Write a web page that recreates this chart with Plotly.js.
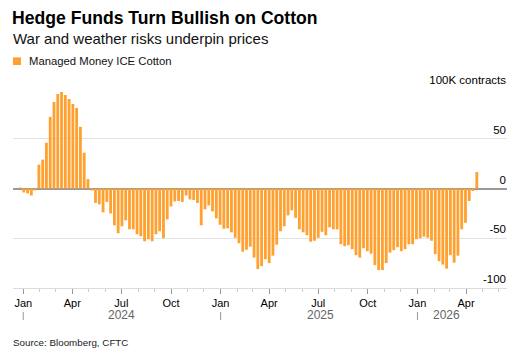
<!DOCTYPE html>
<html>
<head>
<meta charset="utf-8">
<script src="https://cdn.plot.ly/plotly-3.0.1.min.js"></script>
<style>
  html, body { margin: 0; padding: 0; background: #fff; }
  #chart { width: 529px; height: 357px; }
</style>
</head>
<body>
<div id="chart"></div>
<script>
// Weekly CFTC report dates (Tuesdays), first and count
const firstWeek = '2023-12-26';
const weekCount = 122;

// Managed money net position, ICE cotton, thousand contracts
const netPosition = [
  1, -4, -5, -7, -2, 24, 29, 46, 72, 87,
  95, 97, 94, 90, 85, 81, 62, 36, 9.5, -2,
  -14.5, -16, -24, -13.5, -25, -37, -45, -38, -32, -41,
  -41, -46, -48, -53, -51, -53, -46, -43, -50, -31,
  -18, -13, -12.5, -13.5, -7, -11, -11.5, -14.5, -37, -21,
  -17, -23, -30, -36.5, -40.5, -40, -44, -49.5, -55, -63.5,
  -61.5, -58.5, -69.5, -81, -78, -71, -75, -67.5, -56.5, -43,
  -38, -27, -22, -29.5, -41, -44, -47, -53.5, -52.5, -49.5,
  -43.5, -47, -39, -41, -41, -56, -58, -57, -61, -67,
  -69.5, -60, -63, -65.5, -77, -82, -82, -75, -64.5, -62,
  -59, -63, -61, -56, -56, -51, -50, -48.5, -49.5, -52.5,
  -66, -73, -76.5, -80.5, -67, -74.5, -67.5, -41, -34.5, -12.5,
  -2.5, 16.5
];

const yTickVals = [-100, -50, 0, 50, 100];
const yTickText = ['-100', '-50', '0', '50', '100K contracts'];

const yearLabels = ['2024', '2025', '2026'];
const yearLabelDates = ['2024-07-02', '2025-07-05', '2026-02-23'];
const yearStarts = ['2024-01-01', '2025-01-01', '2026-01-01'];

const seriesName = 'Managed Money ICE Cotton';

// build weekly date list
const weekDates = [];
{
  const d0 = new Date(firstWeek + 'T00:00:00Z');
  for (let i = 0; i < weekCount; i++) {
    const d = new Date(d0.getTime() + i * 7 * 86400000);
    weekDates.push(d.toISOString().slice(0, 10));
  }
}

const FONT = 'Liberation Sans, Arial, Helvetica, sans-serif';
const ORANGE = '#ffa131';

const trace = {
  type: 'bar',
  x: weekDates,
  y: netPosition,
  name: seriesName,
  marker: { color: ORANGE, line: { width: 0 } },
  hoverinfo: 'x+y',
  showlegend: false
};

const annotations = [];
yearLabels.forEach((t, i) => {
  annotations.push({
    text: t, x: yearLabelDates[i], xref: 'x', y: 0, yref: 'paper',
    yanchor: 'middle', yshift: -27, showarrow: false,
    font: { family: FONT, size: 12, color: '#666' }
  });
});
annotations.push({
  text: 'War and weather risks underpin prices', xref: 'paper', x: 0, xanchor: 'left', xshift: -2,
  yref: 'paper', y: 1.2513, yanchor: 'middle', showarrow: false,
  font: { family: FONT, size: 15, color: '#111' }
});
annotations.push({
  text: seriesName, xref: 'paper', x: 0.029, xanchor: 'left',
  yref: 'paper', y: 1.1407, yanchor: 'middle', showarrow: false,
  font: { family: FONT, size: 11.3, color: '#111' }
});
annotations.push({
  text: 'Source: Bloomberg, CFTC', xref: 'paper', x: 0, xanchor: 'left', xshift: -2,
  yref: 'paper', y: -0.2714, yanchor: 'middle', showarrow: false,
  font: { family: FONT, size: 9.8, color: '#222' }
});

const shapes = [];
yearStarts.forEach(d => {
  shapes.push({
    type: 'line', xref: 'x', x0: d, x1: d, yref: 'paper',
    ysizemode: 'pixel', yanchor: 0, y0: -24, y1: -32,
    line: { color: '#999', width: 1 }
  });
});
shapes.push({
  type: 'rect', xref: 'paper', yref: 'paper',
  x0: 0, x1: 0.0162, y0: 1.1206, y1: 1.159,
  fillcolor: ORANGE, line: { width: 0 }
});

const layout = {
  width: 529, height: 357,
  margin: { l: 13, r: 22, t: 89, b: 69, pad: 0 },
  paper_bgcolor: '#fff', plot_bgcolor: '#fff',
  font: { family: FONT, color: '#111' },
  title: {
    text: '<b>Hedge Funds Turn Bullish on Cotton</b>',
    xref: 'container', x: 12 / 529, xanchor: 'left',
    yref: 'container', y: 1 - 17.5 / 357, yanchor: 'middle',
    font: { family: FONT, size: 17.6, color: '#000' }
  },
  bargap: 0.25,
  showlegend: false,
  xaxis: {
    type: 'date',
    range: ['2023-12-13', '2026-06-16'],
    tickformat: '%b', dtick: 'M3', tick0: '2024-01-01',
    ticks: 'outside', ticklen: 5, tickwidth: 1, tickcolor: '#999',
    showline: true, linecolor: '#ddd', linewidth: 1,
    showgrid: false, zeroline: false,
    tickfont: { family: FONT, size: 11, color: '#000' },
    minor: { dtick: 'M1', ticks: 'outside', ticklen: 3, tickcolor: '#ccc', showgrid: false },
    fixedrange: true
  },
  yaxis: {
    range: [-100, 100],
    side: 'right',
    tickmode: 'array', tickvals: yTickVals, ticktext: yTickText,
    ticklabelposition: 'inside', ticklabelshift: -9, ticklabelstandoff: -2, ticklabeloverflow: 'allow',
    ticks: '', showline: false,
    showgrid: true, gridcolor: '#e2e2e2', gridwidth: 1,
    zeroline: true, zerolinecolor: '#999', zerolinewidth: 2,
    tickfont: { family: FONT, size: 11.5, color: '#000' },
    fixedrange: true
  },
  annotations: annotations,
  shapes: shapes
};

Plotly.newPlot('chart', [trace], layout, { displayModeBar: false, staticPlot: true });
</script>
</body>
</html>
